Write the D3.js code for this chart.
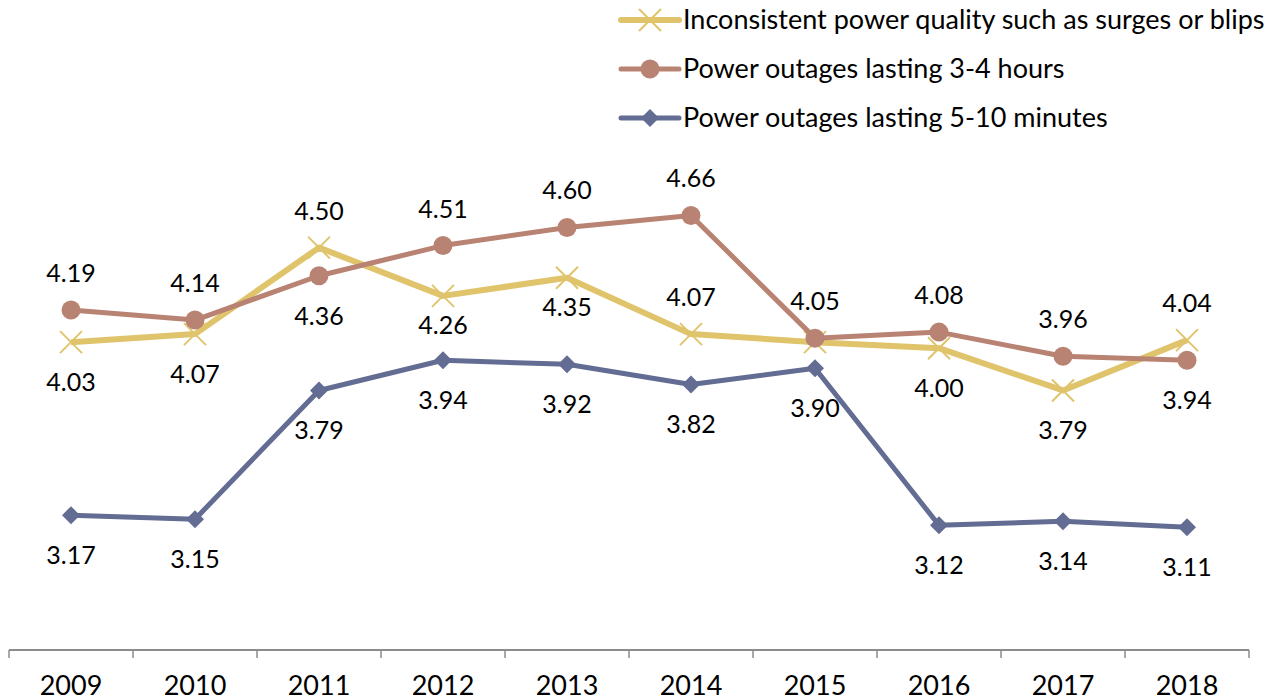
<!DOCTYPE html>
<html>
<head>
<meta charset="utf-8">
<script src="https://cdn.jsdelivr.net/npm/d3@7"></script>
<style>
  body { margin: 0; background: #fff; }
  svg { display: block; font-family: Lato, "Open Sans", sans-serif; }
</style>
</head>
<body>
<div class="chart"></div>
<script>
var years = ["2009", "2010", "2011", "2012", "2013", "2014", "2015", "2016", "2017", "2018"];

var quality = [4.03, 4.07, 4.50, 4.26, 4.35, 4.07, 4.03, 4.00, 3.79, 4.04];
var longOutages = [4.19, 4.14, 4.36, 4.51, 4.60, 4.66, 4.05, 4.08, 3.96, 3.94];
var shortOutages = [3.17, 3.15, 3.79, 3.94, 3.92, 3.82, 3.90, 3.12, 3.14, 3.11];

var seriesNames = [
  "Inconsistent power quality such as surges or blips",
  "Power outages lasting 3-4 hours",
  "Power outages lasting 5-10 minutes"
];

// where each value label sits (a = above, b = below, c = close below, - = hidden)
var qualitySide = ["b", "b", "a", "c", "c", "a", "-", "b", "b", "a"];
var longSide = ["a", "a", "b", "a", "a", "a", "a", "a", "a", "b"];
var shortSide = ["b", "b", "b", "b", "b", "b", "b", "b", "b", "b"];

var width = 1281, height = 700;

var svg = d3.select(".chart").append("svg")
  .attr("width", width)
  .attr("height", height);

var x = d3.scaleBand()
  .domain(years)
  .range([9, 1249]);

var y = d3.scaleLinear()
  .domain([2.5, 5])
  .range([650, 147]);

// x axis, ticks between the categories
var axis = svg.append("g");
axis.append("line")
  .attr("x1", x.range()[0]).attr("x2", x.range()[1])
  .attr("y1", y(2.5)).attr("y2", y(2.5))
  .attr("stroke", "#8c8c8c")
  .attr("stroke-width", 2);
var bounds = years.map(function(d) { return x(d); }).concat([x.range()[1]]);
axis.selectAll(".tick")
  .data(bounds)
  .enter().append("line")
  .attr("x1", function(d) { return d; })
  .attr("x2", function(d) { return d; })
  .attr("y1", y(2.5))
  .attr("y2", y(2.5) + 8)
  .attr("stroke", "#8c8c8c")
  .attr("stroke-width", 1.5);
axis.selectAll(".year")
  .data(years)
  .enter().append("text")
  .attr("x", function(d) { return x(d) + x.bandwidth() / 2; })
  .attr("y", 695)
  .attr("text-anchor", "middle")
  .attr("font-size", 27)
  .attr("fill", "#000")
  .text(function(d) { return d; });

var series = [
  {name: seriesNames[0], values: quality, sides: qualitySide, color: "#e0c46c", width: 6, marker: "x"},
  {name: seriesNames[1], values: longOutages, sides: longSide, color: "#b98373", width: 5, marker: "circle"},
  {name: seriesNames[2], values: shortOutages, sides: shortSide, color: "#636c92", width: 5, marker: "diamond"}
];

var line = d3.line()
  .x(function(d, i) { return x(years[i]) + x.bandwidth() / 2; })
  .y(function(d) { return y(d); });

function drawMarker(g, type, color) {
  if (type == "circle") {
    g.append("circle").attr("r", 9.5).attr("fill", color);
  } else if (type == "diamond") {
    g.append("path").attr("d", "M0,-9L9,0L0,9L-9,0Z").attr("fill", color);
  } else {
    g.append("path").attr("d", "M-11,-11L11,11M-11,11L11,-11")
      .attr("stroke", color).attr("stroke-width", 2).attr("fill", "none");
  }
}

// draw order: blue under, then yellow, then brown on top
[2, 0, 1].forEach(function(k) {
  var s = series[k];
  svg.append("path")
    .datum(s.values)
    .attr("fill", "none")
    .attr("stroke", s.color)
    .attr("stroke-width", s.width)
    .attr("stroke-linejoin", "round")
    .attr("d", line);
  s.values.forEach(function(v, i) {
    var g = svg.append("g")
      .attr("transform", "translate(" + (x(years[i]) + x.bandwidth() / 2) + "," + y(v) + ")");
    drawMarker(g, s.marker, s.color);
  });
});

// value labels
var labelDy = {a: -28, b: 49, c: 38};
series.forEach(function(s) {
  s.values.forEach(function(v, i) {
    if (s.sides[i] == "-") return;
    svg.append("text")
      .attr("x", x(years[i]) + x.bandwidth() / 2)
      .attr("y", y(v) + labelDy[s.sides[i]])
      .attr("text-anchor", "middle")
      .attr("font-size", 25)
      .attr("fill", "#000")
      .text(v.toFixed(2));
  });
});

// legend
var legend = svg.append("g").attr("class", "legend");
series.forEach(function(s, i) {
  var ly = 20 + i * 49;
  legend.append("line")
    .attr("x1", 621).attr("x2", 679)
    .attr("y1", ly).attr("y2", ly)
    .attr("stroke", s.color)
    .attr("stroke-width", s.width)
    .attr("stroke-linecap", "round");
  var g = legend.append("g").attr("transform", "translate(650," + ly + ")");
  drawMarker(g, s.marker, s.color);
  legend.append("text")
    .attr("x", 683)
    .attr("y", ly + 9)
    .attr("font-size", 27)
    .attr("fill", "#000")
    .text(s.name);
});
</script>
</body>
</html>
